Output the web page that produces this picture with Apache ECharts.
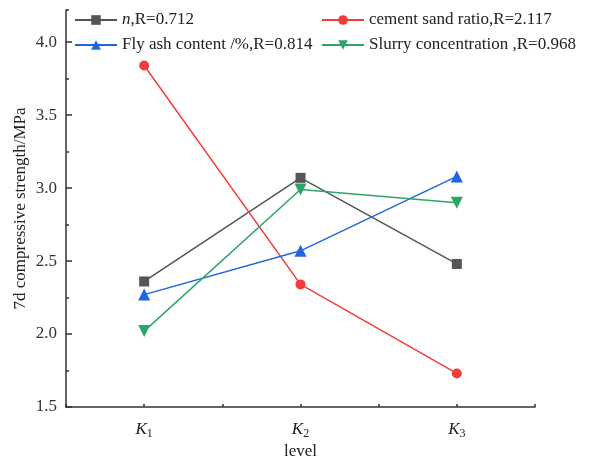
<!DOCTYPE html>
<html lang="en">
<head>
    <meta charset="UTF-8">
    <title>level-strength</title>
    <script src="https://cdn.jsdelivr.net/npm/echarts@6/dist/echarts.min.js"></script>
</head>
<body style="margin:0">
<div id="main" style="width: 613px;height:457px;"></div>
<script>
    // levels K1..K3 and 7d compressive strength (MPa)
    var levels = ['K1', 'K2', 'K3'];
    var names = ['n,R=0.712', 'cement sand ratio,R=2.117', 'Fly ash content /%,R=0.814', 'Slurry concentration ,R=0.968'];
    var nVals = [2.36, 3.07, 2.48];
    var cementVals = [3.84, 2.34, 1.73];
    var flyAshVals = [2.27, 2.57, 3.08];
    var slurryVals = [2.02, 2.99, 2.90];

    var font = 'Liberation Serif';
    var fs = 17;
    var chart = echarts.init(document.getElementById('main'));

    function line(name, data, color, symbol, size, rotate) {
        return {
            name: name,
            type: 'line',
            xAxisIndex: 0,
            yAxisIndex: 0,
            data: data,
            symbol: symbol,
            symbolSize: size,
            symbolRotate: rotate || 0,
            color: color,
            lineStyle: {width: 1.5, color: color},
            itemStyle: {color: color},
            animation: false
        };
    }

    var legendText = {
        fontFamily: font, fontSize: fs, color: '#222', lineHeight: 18,
        rich: {i: {fontFamily: font, fontSize: fs, fontStyle: 'italic', color: '#222'}}
    };
    function legendFmt(name) {
        if (name.indexOf('n,') === 0) return '{i|n}' + name.slice(1);
        return name;
    }

    var option = {
        backgroundColor: '#fff',
        animation: false,
        grid: {left: 66, right: 78, top: 10, bottom: 50, outerBoundsMode: 'none', containLabel: false},
        legend: [{
            data: [names[0], names[2]],
            orient: 'vertical',
            left: 74, top: 11, padding: 0,
            itemWidth: 42, itemHeight: 12, itemGap: 7,
            formatter: legendFmt,
            textStyle: legendText
        }, {
            data: [names[1], names[3]],
            orient: 'vertical',
            left: 321, top: 11, padding: 0,
            itemWidth: 42, itemHeight: 12, itemGap: 7,
            formatter: legendFmt,
            textStyle: legendText
        }],
        xAxis: [{
            type: 'category',
            data: levels,
            boundaryGap: true,
            position: 'bottom',
            name: 'level',
            nameLocation: 'middle',
            nameGap: 36,
            nameMoveOverlap: false,
            nameTextStyle: {fontFamily: font, fontSize: fs, color: '#222'},
            axisLine: {lineStyle: {color: '#333', width: 1.5}},
            axisTick: {alignWithLabel: true, inside: true, length: 6, lineStyle: {color: '#333', width: 1.5}},
            axisLabel: {
                margin: 12,
                formatter: function (v) {
                    return '{k|' + v.charAt(0) + '}{s|' + v.slice(1) + '}';
                },
                rich: {
                    k: {fontFamily: font, fontSize: fs, fontStyle: 'italic', color: '#222'},
                    s: {fontFamily: font, fontSize: 12, color: '#222', padding: [9, 0, 0, 0]}
                }
            },
            splitLine: {show: false}
        }, {
            type: 'value',
            min: 0.5, max: 3.5, interval: 0.5,
            position: 'bottom',
            axisLine: {show: false},
            axisTick: {inside: true, length: 3, lineStyle: {color: '#333', width: 1.5}},
            axisLabel: {show: false},
            splitLine: {show: false}
        }],
        yAxis: [{
            type: 'value',
            min: 1.5, max: 4.22, interval: 0.5,
            position: 'left',
            name: '7d compressive strength/MPa',
            nameLocation: 'middle',
            nameGap: 37,
            nameMoveOverlap: false,
            nameTextStyle: {fontFamily: font, fontSize: fs, color: '#222'},
            axisLine: {show: true, lineStyle: {color: '#333', width: 1.5}},
            axisTick: {inside: true, length: 6, lineStyle: {color: '#333', width: 1.5}},
            axisLabel: {
                showMaxLabel: false,
                margin: 9,
                fontFamily: font, fontSize: fs, color: '#333',
                formatter: function (v) { return v.toFixed(1); }
            },
            splitLine: {show: false}
        }, {
            type: 'value',
            min: 1.5, max: 4.22, interval: 0.25,
            position: 'left',
            axisLine: {show: false},
            axisTick: {inside: true, length: 3, lineStyle: {color: '#333', width: 1.5}},
            axisLabel: {show: false},
            splitLine: {show: false}
        }],
        series: [
            line(names[0], nVals, '#555555', 'rect', 10),
            line(names[1], cementVals, '#f43c3c', 'circle', 10),
            line(names[2], flyAshVals, '#1f66e0', 'triangle', 12),
            line(names[3], slurryVals, '#2aa566', 'triangle', 12, 180)
        ]
    };
    chart.setOption(option);
</script>
</body>
</html>
